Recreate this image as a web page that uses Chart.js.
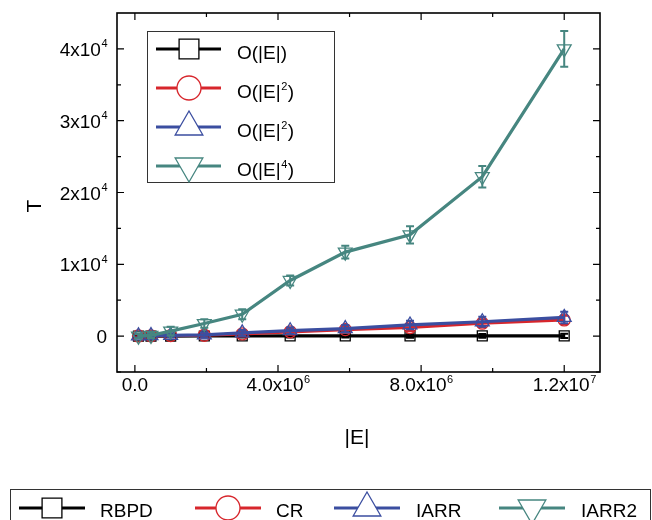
<!DOCTYPE html>
<html>
<head>
<meta charset="utf-8">
<script src="https://cdn.jsdelivr.net/npm/chart.js@4.4.0/dist/chart.umd.min.js"></script>
<style>
  html, body { margin: 0; padding: 0; background: #fff; }
</style>
</head>
<body>
<canvas id="chart" width="652" height="520"></canvas>
<script>
// |E| values of the measured graphs
const edges = [1.0e5, 4.5e5, 1.0e6, 1.94e6, 3.0e6, 4.34e6, 5.88e6, 7.69e6, 9.71e6, 1.2e7];

// running time T per method
const rbpd  = [5, 8, 10, 12, 15, 18, 20, 25, 30, 35];
const cr    = [20, 40, 80, 120, 300, 600, 900, 1200, 1800, 2250];
const iarr  = [30, 60, 100, 160, 450, 750, 1050, 1550, 2000, 2600];
const iarr2 = [0, 100, 700, 1750, 3050, 7750, 11700, 14100, 22200, 40000];

// error bar half heights
const rbpdErr  = [150, 150, 150, 150, 200, 200, 200, 250, 250, 300];
const crErr    = [200, 200, 250, 300, 350, 400, 450, 500, 550, 600];
const iarrErr  = [250, 250, 300, 350, 400, 450, 500, 600, 700, 800];
const iarr2Err = [300, 350, 600, 600, 700, 700, 900, 1200, 1500, 2500];

const seriesNames = ['RBPD', 'CR', 'IARR', 'IARR2'];
const complexityBase = ['O(|E|', 'O(|E|', 'O(|E|', 'O(|E|'];
const complexitySup = ['', '2', '2', '4'];

// tick labels (mantissa + exponent)
const yTickVals = [0, 10000, 20000, 30000, 40000];
const yTickBase = ['0', '1x10', '2x10', '3x10', '4x10'];
const yTickSup  = ['', '4', '4', '4', '4'];
const xTickVals = [0, 4e6, 8e6, 1.2e7];
const xTickBase = ['0.0', '4.0x10', '8.0x10', '1.2x10'];
const xTickSup  = ['', '6', '6', '7'];
const yMinorVals = [-5000, 5000, 15000, 25000, 35000];
const xMinorVals = [2e6, 6e6, 1e7];

const colors = ['#000000', '#d7262c', '#3b4ea0', '#468680'];
const styles = [
  { pointStyle: 'rect', rotation: 0, radius: 7, legendRadius: 14 },
  { pointStyle: 'circle', rotation: 0, radius: 6, legendRadius: 12 },
  { pointStyle: 'triangle', rotation: 0, radius: 8, legendRadius: 16 },
  { pointStyle: 'triangle', rotation: 180, radius: 8, legendRadius: 16 }
];
const values = [rbpd, cr, iarr, iarr2];
const errors = [rbpdErr, crErr, iarrErr, iarr2Err];

const FONT = '"Liberation Sans", Arial, sans-serif';

function textWithSup(ctx, base, sup, x, y, align, size, supSize) {
  ctx.font = size + 'px ' + FONT;
  const wb = ctx.measureText(base).width;
  ctx.font = supSize + 'px ' + FONT;
  const ws = sup ? ctx.measureText(sup).width : 0;
  const w = wb + ws;
  let sx = x;
  if (align === 'right') sx = x - w;
  else if (align === 'center') sx = x - w / 2;
  ctx.textAlign = 'left';
  ctx.textBaseline = 'alphabetic';
  ctx.font = size + 'px ' + FONT;
  ctx.fillText(base, sx, y);
  if (sup) {
    ctx.font = supSize + 'px ' + FONT;
    ctx.fillText(sup, sx + wb + 0.5, y - 8.5);
  }
  return sx + w;
}

function marker(ctx, i, x, y, r, fill) {
  ctx.save();
  ctx.strokeStyle = colors[i];
  ctx.fillStyle = fill;
  ctx.lineWidth = 1.3;
  Chart.helpers.drawPoint(ctx, {
    pointStyle: styles[i].pointStyle,
    rotation: styles[i].rotation,
    radius: r,
    borderWidth: 1.3
  }, x, y);
  ctx.restore();
}

const errorBars = {
  id: 'errorBars',
  afterDatasetDraw(chart, args) {
    const i = args.index;
    const ctx = chart.ctx;
    const xs = chart.scales.x, ys = chart.scales.y;
    ctx.save();
    ctx.strokeStyle = colors[i];
    ctx.lineWidth = 2;
    edges.forEach((e, k) => {
      const px = xs.getPixelForValue(e);
      const top = ys.getPixelForValue(values[i][k] + errors[i][k]);
      const bot = ys.getPixelForValue(values[i][k] - errors[i][k]);
      ctx.beginPath();
      ctx.moveTo(px, top); ctx.lineTo(px, bot);
      ctx.moveTo(px - 4, top); ctx.lineTo(px + 4, top);
      ctx.moveTo(px - 4, bot); ctx.lineTo(px + 4, bot);
      ctx.stroke();
    });
    ctx.restore();
  }
};

const frame = {
  id: 'frame',
  afterDraw(chart) {
    const ctx = chart.ctx;
    const a = chart.chartArea;
    const xs = chart.scales.x, ys = chart.scales.y;
    ctx.save();
    ctx.strokeStyle = '#000';
    ctx.lineWidth = 1.6;
    ctx.strokeRect(a.left, a.top, a.right - a.left, a.bottom - a.top);

    // inward ticks on all four sides
    ctx.lineWidth = 1.2;
    ctx.beginPath();
    const tickY = (v, len) => {
      const p = ys.getPixelForValue(v);
      ctx.moveTo(a.left, p); ctx.lineTo(a.left + len, p);
      ctx.moveTo(a.right, p); ctx.lineTo(a.right - len, p);
    };
    const tickX = (v, len) => {
      const p = xs.getPixelForValue(v);
      ctx.moveTo(p, a.bottom); ctx.lineTo(p, a.bottom - len);
      ctx.moveTo(p, a.top); ctx.lineTo(p, a.top + len);
    };
    yTickVals.forEach(v => tickY(v, 7));
    yMinorVals.forEach(v => tickY(v, 4));
    xTickVals.forEach(v => tickX(v, 7));
    xMinorVals.forEach(v => tickX(v, 4));
    ctx.stroke();

    ctx.fillStyle = '#000';
    yTickVals.forEach((v, k) => {
      textWithSup(ctx, yTickBase[k], yTickSup[k], a.left - 10, ys.getPixelForValue(v) + 7, 'right', 19, 11);
    });
    xTickVals.forEach((v, k) => {
      textWithSup(ctx, xTickBase[k], xTickSup[k], xs.getPixelForValue(v), 391, 'center', 19, 11);
    });

    // axis titles
    ctx.font = '21px ' + FONT;
    ctx.textAlign = 'center';
    ctx.textBaseline = 'middle';
    ctx.fillText('|E|', 357, 438);
    ctx.save();
    ctx.translate(35, 206);
    ctx.rotate(-Math.PI / 2);
    ctx.fillText('T', 0, 0);
    ctx.restore();

    // inner legend
    ctx.strokeStyle = '#333';
    ctx.lineWidth = 1;
    ctx.strokeRect(147.5, 31.5, 187, 151);
    const rowY = [49, 88, 127, 166];
    complexityBase.forEach((b, i) => {
      const y = rowY[i];
      ctx.strokeStyle = colors[i];
      ctx.lineWidth = 3;
      ctx.beginPath();
      ctx.moveTo(156, y); ctx.lineTo(221, y);
      ctx.stroke();
      marker(ctx, i, 189, y, styles[i].legendRadius, '#fff');
      ctx.fillStyle = '#000';
      const end = textWithSup(ctx, b, complexitySup[i], 237, y + 10, 'left', 19, 11);
      ctx.font = '19px ' + FONT;
      ctx.fillText(')', end + (complexitySup[i] ? 1 : 0), y + 10);
    });

    // bottom legend
    ctx.strokeStyle = '#333';
    ctx.lineWidth = 1;
    ctx.strokeRect(10.5, 489.5, 640, 40);
    const lineX = [19, 195, 334, 499];
    const textX = [100, 276, 416, 581];
    seriesNames.forEach((n, i) => {
      const y = 508;
      ctx.strokeStyle = colors[i];
      ctx.lineWidth = 3;
      ctx.beginPath();
      ctx.moveTo(lineX[i], y); ctx.lineTo(lineX[i] + 66, y);
      ctx.stroke();
      marker(ctx, i, lineX[i] + 33, y, styles[i].legendRadius, '#fff');
      ctx.fillStyle = '#000';
      ctx.font = '19px ' + FONT;
      ctx.textAlign = 'left';
      ctx.textBaseline = 'alphabetic';
      ctx.fillText(n, textX[i], y + 9);
    });
    ctx.restore();
  }
};

const datasets = seriesNames.map((n, i) => ({
  label: n,
  data: edges.map((e, k) => ({ x: e, y: values[i][k] })),
  borderColor: colors[i],
  backgroundColor: colors[i],
  borderWidth: 3.2,
  tension: 0,
  pointStyle: styles[i].pointStyle,
  pointRotation: styles[i].rotation,
  pointRadius: styles[i].radius,
  pointBorderColor: colors[i],
  pointBackgroundColor: 'rgba(0,0,0,0)',
  pointBorderWidth: 1.3,
  order: 3 - i
}));

new Chart(document.getElementById('chart'), {
  type: 'line',
  data: { datasets },
  options: {
    responsive: false,
    animation: false,
    devicePixelRatio: 1,
    layout: { padding: { left: 117, right: 52, top: 13, bottom: 148 } },
    plugins: { legend: { display: false }, tooltip: { enabled: false } },
    scales: {
      x: { type: 'linear', min: -5e5, max: 1.3e7, display: false },
      y: { type: 'linear', min: -5000, max: 45000, display: false }
    }
  },
  plugins: [errorBars, frame]
});
</script>
</body>
</html>
